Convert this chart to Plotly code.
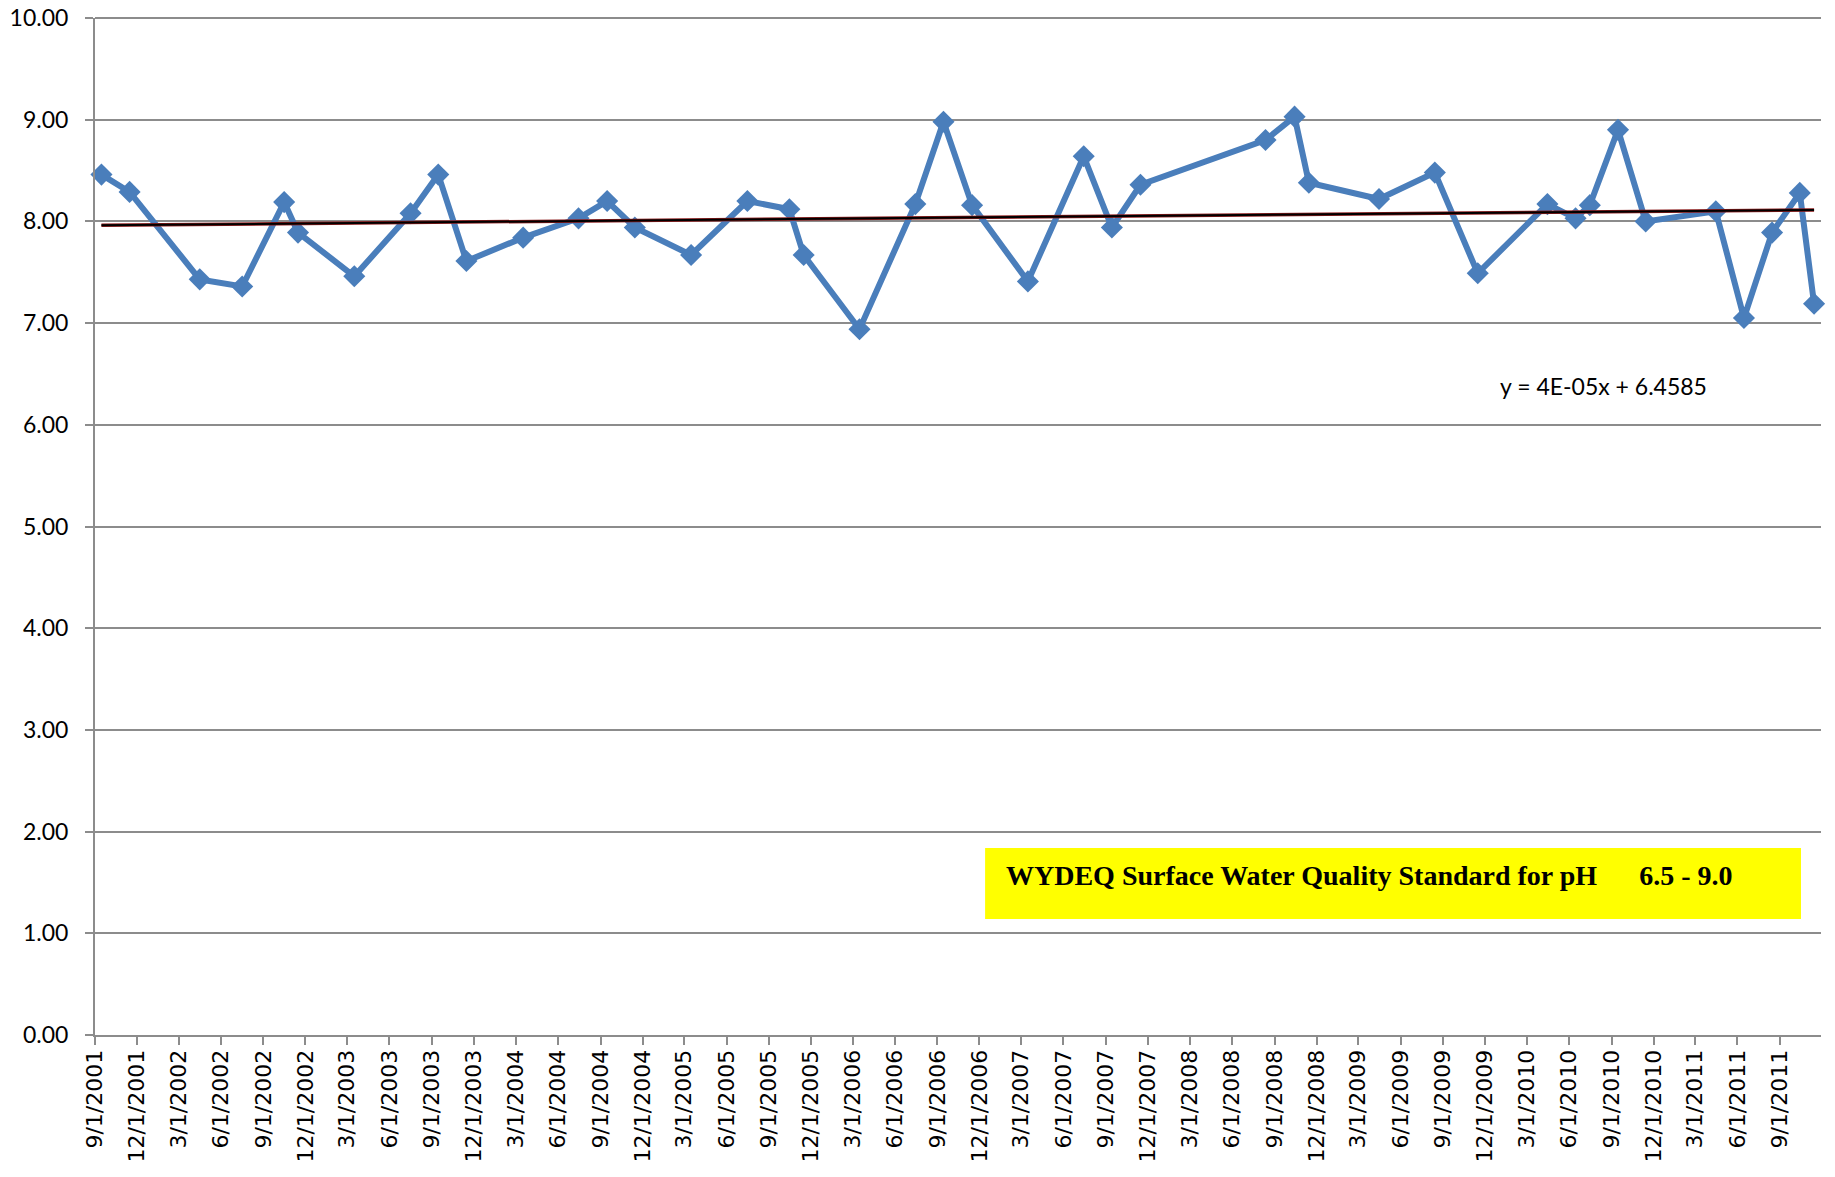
import numpy as np
import pandas as pd
import plotly.graph_objects as go

# Sample dates and pH values
dates = [
    "2001-09-15", "2001-11-15", "2002-04-16", "2002-07-17", "2002-10-16", "2002-11-15",
    "2003-03-17", "2003-07-17", "2003-09-15", "2003-11-15", "2004-03-17", "2004-07-15",
    "2004-09-15", "2004-11-14", "2005-03-16", "2005-07-16", "2005-10-15", "2005-11-15",
    "2006-03-16", "2006-07-15", "2006-09-14", "2006-11-15", "2007-03-16", "2007-07-15",
    "2007-09-14", "2007-11-15", "2008-08-12", "2008-10-14", "2008-11-14", "2009-04-15",
    "2009-08-14", "2009-11-15", "2010-04-15", "2010-06-15", "2010-07-16", "2010-09-15",
    "2010-11-14", "2011-04-15", "2011-06-15", "2011-08-15", "2011-10-14", "2011-11-14",
]
ph_values = [
    8.46, 8.29, 7.43, 7.36, 8.19, 7.89,
    7.46, 8.08, 8.46, 7.61, 7.84, 8.03,
    8.20, 7.94, 7.67, 8.20, 8.12, 7.67,
    6.94, 8.17, 8.98, 8.16, 7.41, 8.64,
    7.94, 8.36, 8.80, 9.03, 8.38, 8.22,
    8.48, 7.49, 8.17, 8.03, 8.16, 8.90,
    8.00, 8.10, 7.05, 7.89, 8.28, 7.19,
]
y_ticks = [0, 1, 2, 3, 4, 5, 6, 7, 8, 9, 10]
trend_label = "y = 4E-05x + 6.4585"
standard_label = "WYDEQ Surface Water Quality Standard for pH\u00a0\u00a0\u00a0\u00a0\u00a0 6.5 - 9.0"

# Linear trend (Excel-style, x = serial day number)
d = pd.to_datetime(dates)
serial = (d - pd.Timestamp("1899-12-30")).days.values.astype(float)
slope, intercept = np.polyfit(serial, np.array(ph_values), 1)
trend_dates = [d[0], d[-1]]
trend_vals = [slope * serial[0] + intercept, slope * serial[-1] + intercept]

grid = "#8c8c8c"
blue = "#4a7ebb"

fig = go.Figure()
fig.add_trace(go.Scatter(
    x=d, y=ph_values, mode="lines+markers",
    line=dict(color=blue, width=6),
    marker=dict(symbol="diamond", size=17, color=blue),
    showlegend=False, cliponaxis=False,
))
fig.add_trace(go.Scatter(
    x=trend_dates, y=trend_vals, mode="lines",
    line=dict(color="#8b1a1a", width=3.5), showlegend=False,
))
fig.add_trace(go.Scatter(
    x=trend_dates, y=trend_vals, mode="lines",
    line=dict(color="black", width=2), showlegend=False,
))

# top gridline (plotly omits the gridline at the range edge)
fig.add_shape(type="line", xref="paper", yref="paper", x0=0, x1=1, y0=1, y1=1,
              line=dict(color=grid, width=2), layer="below")

fig.add_shape(type="rect", xref="paper", yref="paper",
              x0=0.5157, x1=0.9884, y0=0.114, y1=0.1839,
              fillcolor="#ffff00", line=dict(width=0), layer="above")

fig.add_annotation(xref="paper", yref="paper", x=0.5267, y=0.1573,
                   xanchor="left", yanchor="middle", showarrow=False,
                   text="<b>" + standard_label + "</b>",
                   font=dict(family="Liberation Serif", size=28, color="black"))
fig.add_annotation(xref="paper", yref="paper", x=0.874, y=0.638,
                   xanchor="center", yanchor="middle", showarrow=False,
                   text=trend_label,
                   font=dict(family="Lato", size=23, color="black"))

fig.update_layout(
    width=1835, height=1177,
    margin=dict(l=95, r=14, t=18, b=142, autoexpand=False),
    paper_bgcolor="white", plot_bgcolor="white",
    showlegend=False,
)
fig.update_yaxes(
    range=[0, 10], tickvals=y_ticks, tickformat=".2f",
    showgrid=True, gridcolor=grid, gridwidth=2,
    showline=True, linecolor=grid, linewidth=2,
    ticks="outside", ticklen=8, tickcolor=grid, tickwidth=2,
    tickfont=dict(family="Lato", size=23, color="black"),
    ticklabelstandoff=12, ticklabeloverflow="allow",
    zeroline=False, automargin=False,
)
fig.update_xaxes(
    type="date", range=["2001-09-01", "2011-11-29"],
    tick0="2001-09-01", dtick="M3", tickformat="%-m/%-d/%Y",
    tickangle=-90, showgrid=False,
    showline=True, linecolor=grid, linewidth=2,
    ticks="outside", ticklen=8, tickcolor=grid, tickwidth=2,
    tickfont=dict(family="DejaVu Sans", size=22, color="black"),
    ticklabelstandoff=-4, ticklabeloverflow="allow",
    zeroline=False, automargin=False,
)

fig.write_html("out.html",
               config={"displayModeBar": False},
               post_script="document.body.style.margin='0';document.body.style.overflow='hidden';")
